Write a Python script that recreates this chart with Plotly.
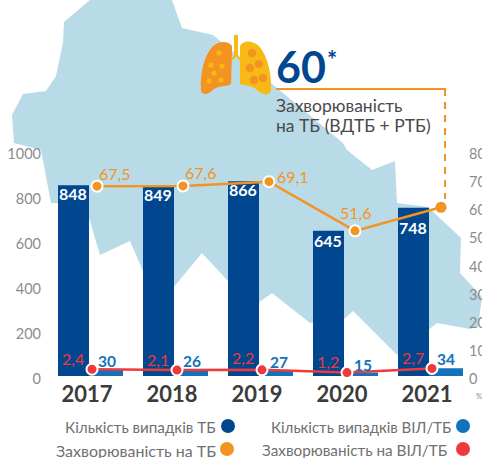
import plotly.graph_objects as go

W, H = 482, 458
FONT = "Lato, 'Open Sans', sans-serif"

years = [2017, 2018, 2019, 2020, 2021]
tb_cases = [848, 849, 866, 645, 748]
hiv_cases = [30, 26, 27, 15, 34]
tb_rate = [67.5, 67.6, 69.1, 51.6, 60]
hiv_rate = [2.4, 2.1, 2.2, 1.2, 2.7]
tb_rate_labels = ["67,5", "67,6", "69,1", "51,6"]
hiv_rate_labels = ["2,4", "2,1", "2,2", "1,2", "2,7"]
left_ticks = [0, 200, 400, 600, 800, 1000]
right_ticks = [0, 10, 20, 30, 40, 50, 60, 70, 80]
headline = "60"
headline_lines = ["Захворюваність", "на ТБ (ВДТБ + РТБ)"]
legend_items = ["Кількість випадків ТБ", "Кількість випадків ВІЛ/ТБ",
                "Захворюваність на ТБ", "Захворюваність на ВІЛ/ТБ"]

NAVY, BLUE, ORANGE, RED = "#00478F", "#1272BA", "#F39322", "#EE3A3B"
YELLOW, MAP, TICK, DARK = "#F9B915", "#B9DBE8", "#8C8C8C", "#3C3C3C"

# pixel layout of the scales
BASE, PX_Y = 376, 0.225
y_range = [-(H - BASE) / PX_Y, BASE / PX_Y]
def xrange_for(px0, per_year):
    return [2017 - px0 / per_year, 2017 + (W - px0) / per_year]

def px(x):
    return x / W
def py(y):
    return 1 - y / H

fig = go.Figure()
PER = 85
fig.add_bar(x=years, y=tb_cases, width=31 / PER, offset=-29 / PER, marker_color=NAVY,
            marker_line_width=0, name=legend_items[0], xaxis="x", yaxis="y")
fig.add_bar(x=years, y=hiv_cases, width=34 / PER, offset=2 / PER, marker_color=BLUE,
            marker_line_width=0, name=legend_items[1], xaxis="x", yaxis="y")
fig.add_scatter(x=years, y=tb_rate, mode="lines+markers", xaxis="x2", yaxis="y2",
                name=legend_items[2], line=dict(color=ORANGE, width=2.5),
                marker=dict(size=11, color=ORANGE, line=dict(color="white", width=[2, 2, 2, 2, 0])))
fig.add_scatter(x=years, y=hiv_rate, mode="lines+markers", xaxis="x3", yaxis="y2",
                name=legend_items[3], line=dict(color=RED, width=2.5),
                marker=dict(size=11, color=RED, line=dict(color="white", width=2)))

ann = []
def note(x, y, text, size, color, xshift=0, yshift=0, bold=False, xref="x", yref="y", anchor="center"):
    ann.append(dict(x=x, y=y, xref=xref, yref=yref, text=f"<b>{text}</b>" if bold else text,
                    showarrow=False, xanchor=anchor, yanchor="middle", xshift=xshift, yshift=yshift,
                    font=dict(family=FONT, size=size, color=color)))

dark_top = [-8, -10, -8, -10, -20]
for yr, v, s in zip(years, tb_cases, dark_top):
    note(yr, v, str(v), 16, "white", xshift=-14, yshift=s, bold=True)
blue_dx = [20, 20, 22, 21, 19]
blue_dy = [8, 9, 8, 8, 9]
for yr, v, dx, dy in zip(years, hiv_cases, blue_dx, blue_dy):
    note(yr, v, str(v), 15.5, BLUE, xshift=dx, yshift=dy, bold=True)
tb_dx = [17, 17, 23, 0]
tb_dy = [13, 13, 5, 18]
for yr, v, t, dx, dy in zip(years, tb_rate, tb_rate_labels, tb_dx, tb_dy):
    note(yr, v, t, 16, ORANGE, xshift=dx, yshift=dy, xref="x2", yref="y2")
hiv_dy = [11, 11, 12, 11, 11]
for yr, v, t, dy in zip(years, hiv_rate, hiv_rate_labels, hiv_dy):
    note(yr, v, t, 16, RED, xshift=-19, yshift=dy, xref="x3", yref="y2")

# headline block
note(px(274), py(66), f"<b>{headline}</b>", 43, NAVY, xref="paper", yref="paper", anchor="left")
note(px(325), py(59), "<b>*</b>", 24, NAVY, xref="paper", yref="paper", anchor="left")
note(px(274), py(105), headline_lines[0], 17.5, "#4A4A4A", xref="paper", yref="paper", anchor="left")
note(px(274), py(126), headline_lines[1], 17.5, "#4A4A4A", xref="paper", yref="paper", anchor="left")

# legend text
for text, lx, ly, sz in zip(legend_items, [63, 269, 54, 260], [427, 427, 450, 450], [15.2, 15.0, 16.0, 15.3]):
    ann.append(dict(x=px(lx), y=py(ly), xref="paper", yref="paper", text=text, showarrow=False,
                    xanchor="left", yanchor="middle", font=dict(family=FONT, size=sz, color="#707070")))
note(px(474), py(396), "%", 8, TICK, xref="paper", yref="paper", anchor="left")

# background map, lungs and callout lines are decoration in pixel space
def path(points):
    return "M" + " L".join(f"{px(x):.4f},{py(y):.4f}" for x, y in points) + " Z"

map_outline = [(90, 0), (64, 22), (63, 43), (56, 76), (46, 91), (23, 94), (12, 115), (14, 143), (41, 150),
               (51, 203), (85, 204), (92, 228), (100, 255), (130, 241), (143, 271), (173, 288), (202, 253),
               (227, 280), (258, 303), (272, 293), (310, 323), (343, 320), (353, 311), (397, 355),
               (428, 330), (437, 323), (470, 329), (478, 327), (482, 297), (460, 273), (461, 238),
               (428, 207), (397, 203), (395, 161), (372, 170), (347, 150), (343, 143), (277, 88),
               (213, 35), (182, 28), (172, 0)]
shapes = [dict(type="path", path=path(map_outline), xref="paper", yref="paper", fillcolor=MAP,
               line_width=0, layer="below")]

def curve(cmds):
    out = []
    for c in cmds:
        if c[0] == "M" or c[0] == "L":
            out.append(f"{c[0]}{px(c[1]):.4f},{py(c[2]):.4f}")
        elif c[0] == "C":
            out.append(f"C{px(c[1]):.4f},{py(c[2]):.4f} {px(c[3]):.4f},{py(c[4]):.4f} {px(c[5]):.4f},{py(c[6]):.4f}")
    return " ".join(out) + " Z"

left_lung = [("M", 232, 54), ("L", 231, 84), ("C", 226, 87, 218, 85, 213, 90), ("C", 209, 94, 203, 96, 201, 91),
             ("C", 200, 75, 203, 58, 212, 47), ("C", 218, 41, 228, 40, 232, 46)]
right_lung = [("M", 240, 48), ("L", 240, 84), ("C", 246, 86, 252, 85, 257, 90), ("C", 261, 94, 268, 97, 271, 91),
              ("C", 272, 76, 268, 56, 259, 46), ("C", 252, 40, 243, 40, 240, 46)]
shapes.append(dict(type="path", path=curve(left_lung), xref="paper", yref="paper", fillcolor=ORANGE, line_width=0))
shapes.append(dict(type="path", path=curve(right_lung), xref="paper", yref="paper", fillcolor=YELLOW, line_width=0))
shapes.append(dict(type="path", path=path([(234, 35), (238, 35), (238, 55), (241, 59), (239, 60), (236, 56),
                                           (233, 60), (231, 59), (234, 55)]),
                   xref="paper", yref="paper", fillcolor=YELLOW, line_width=0))

def circle(cx, cy, r, color):
    return dict(type="circle", xref="paper", yref="paper", x0=px(cx - r), x1=px(cx + r), y0=py(cy + r),
                y1=py(cy - r), fillcolor=color, line_width=0)

for cx, cy in [(219, 53), (211, 65), (222, 66), (214, 73), (209, 81), (221, 80)]:
    shapes.append(circle(cx, cy, 2.6, YELLOW))
for cx, cy in [(252, 53), (259, 64), (250, 68), (254, 80), (263, 78)]:
    shapes.append(circle(cx, cy, 4.2, ORANGE))

shapes.append(dict(type="line", xref="paper", yref="paper", x0=px(276), x1=px(446), y0=py(89), y1=py(89),
                   line=dict(color=ORANGE, width=2)))
shapes.append(dict(type="line", xref="paper", yref="paper", x0=px(445), x1=px(445), y0=py(89), y1=py(199),
                   line=dict(color=ORANGE, width=2, dash="7px,6px")))

for (lx, ly), c in zip([(228, 426), (463, 426), (227, 449), (463, 449)], [NAVY, BLUE, ORANGE, RED]):
    shapes.append(circle(lx, ly, 7, c))

base_pos = (H - BASE) / H
fig.update_layout(
    width=W, height=H, margin=dict(l=0, r=0, t=0, b=0, autoexpand=False), paper_bgcolor="white",
    plot_bgcolor="rgba(0,0,0,0)",
    showlegend=False, barmode="overlay", annotations=ann, shapes=shapes,
    xaxis=dict(range=xrange_for(87, PER), tickvals=years, ticktext=[str(y) for y in years], anchor="free",
               position=base_pos, showgrid=False, zeroline=False, showline=False, ticks="",
               ticklabelstandoff=3, tickfont=dict(family=FONT, size=22, color=DARK, weight="bold")),
    xaxis2=dict(range=xrange_for(97, 86), overlaying="x", visible=False),
    xaxis3=dict(range=xrange_for(92, 85), overlaying="x", visible=False),
    yaxis=dict(domain=[0, 1], range=y_range, tickvals=left_ticks, anchor="free", position=px(41),
               showgrid=False, zeroline=False, showline=False, ticks="", ticklabelshift=3,
               tickfont=dict(family=FONT, size=14.5, color=TICK)),
    yaxis2=dict(range=[v * 0.08 for v in y_range], overlaying="y", side="right", tickvals=right_ticks,
                anchor="free", position=px(468), showgrid=False, zeroline=False, showline=False, ticks="",
                ticklabelshift=3, tickfont=dict(family=FONT, size=14.5, color=TICK)),
)
fig.write_html("out.html", config=dict(displayModeBar=False),
               post_script="document.body.style.margin='0';document.body.style.overflow='hidden';")
